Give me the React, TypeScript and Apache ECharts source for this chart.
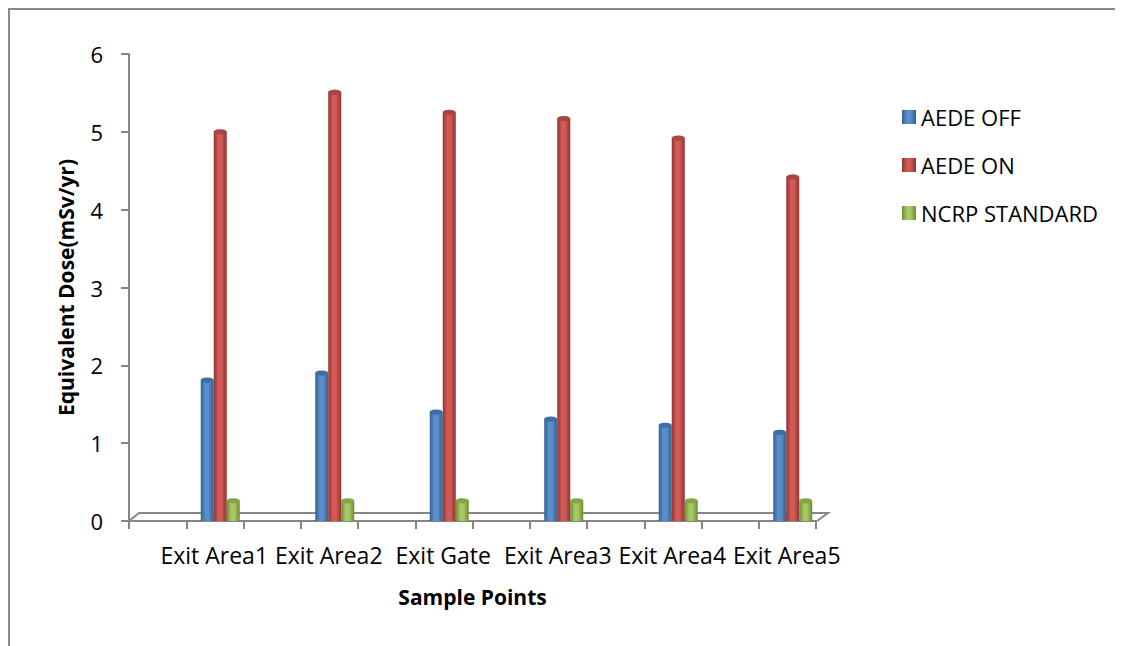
import React, { useEffect, useRef } from "react";
import * as echarts from "echarts";

const categories = ["Exit Area1", "Exit Area2", "Exit Gate", "Exit Area3", "Exit Area4", "Exit Area5"];
const seriesNames = ["AEDE OFF", "AEDE ON", "NCRP STANDARD"];
const aedeOff = [1.81, 1.9, 1.4, 1.31, 1.23, 1.14];
const aedeOn = [5.0, 5.51, 5.25, 5.17, 4.92, 4.42];
const ncrpStandard = [0.26, 0.26, 0.26, 0.26, 0.26, 0.26];
const yTicks = [0, 1, 2, 3, 4, 5, 6];

const FONT = "'Open Sans', sans-serif";
const AXIS = "#868686";

function cyl(edge: string, light: string) {
  return new echarts.graphic.LinearGradient(0, 0, 1, 0, [
    { offset: 0, color: edge },
    { offset: 0.35, color: light },
    { offset: 0.6, color: light },
    { offset: 1, color: edge },
  ]);
}

export default function App() {
  const ref = useRef<HTMLDivElement>(null);
  useEffect(() => {
    document.documentElement.style.overflow = "hidden";
    const chart = echarts.init(ref.current!, null, { renderer: "svg" });
    const colors = ["#4F81BD", "#C0504D", "#9BBB59"];
    const grads = [
      cyl("#34608F", "#5A8DCB"),
      cyl("#8E3431", "#D25A56"),
      cyl("#6E8A36", "#A6C963"),
    ];
    const caps = ["#3F6EA6", "#A94542", "#84A449"];
    const datas = [aedeOff, aedeOn, ncrpStandard];
    const bars: any[] = datas.map((d, i) => ({
      name: seriesNames[i],
      type: "bar",
      xAxisIndex: 1,
      yAxisIndex: 1,
      data: d,
      barWidth: 13,
      barGap: "0%",
      itemStyle: { color: grads[i] },
      z: 3,
    }));
    const tops: any[] = datas.map((d, i) => ({
      name: seriesNames[i],
      type: "pictorialBar",
      xAxisIndex: 1,
      yAxisIndex: 1,
      data: d,
      symbol: "circle",
      symbolSize: [13, 5],
      symbolPosition: "end",
      symbolOffset: [0, "-50%"],
      barWidth: 13,
      barGap: "0%",
      itemStyle: { color: caps[i] },
      z: 4,
    }));
    chart.setOption({
      animation: false,
      color: colors,
      textStyle: { fontFamily: FONT },
      legend: {
        orient: "vertical",
        left: 897,
        top: 100,
        itemWidth: 14,
        itemHeight: 14,
        itemGap: 24,
        icon: "rect",
        data: seriesNames,
        textStyle: { fontSize: 22, color: "#000", fontFamily: FONT, lineHeight: 24 },
      },
      grid: [
        { left: 129, top: 54, width: 687, height: 467 },
        { left: 163, top: 54, width: 687, height: 467 },
      ],
      xAxis: [
        {
          type: "value",
          gridIndex: 0,
          min: 0,
          max: 12,
          interval: 1,
          axisLine: { show: true, lineStyle: { color: AXIS, width: 2 } },
          axisTick: { show: true, length: 8, lineStyle: { color: AXIS, width: 2 } },
          axisLabel: { show: false },
          splitLine: { show: false },
          name: "Sample Points",
          nameLocation: "middle",
          nameGap: 65,
          nameTextStyle: { fontSize: 21, fontWeight: "bold", color: "#000", fontFamily: FONT },
        },
        {
          type: "category",
          gridIndex: 1,
          data: categories,
          axisLine: { show: false },
          axisTick: { show: false },
          axisLabel: {
            fontSize: 23,
            color: "#000",
            margin: 22,
            interval: 0,
            fontFamily: FONT,
            padding: [0, 12, 0, 0],
          },
        },
      ],
      yAxis: [
        {
          type: "value",
          gridIndex: 0,
          min: yTicks[0],
          max: yTicks[yTicks.length - 1],
          interval: 1,
          axisLine: { show: true, lineStyle: { color: AXIS, width: 2 } },
          axisTick: { show: true, length: 8, lineStyle: { color: AXIS, width: 2 } },
          axisLabel: { fontSize: 22, color: "#000", margin: 26, fontFamily: FONT },
          splitLine: { show: false },
          name: "Equivalent Dose(mSv/yr)",
          nameLocation: "middle",
          nameGap: 53,
          nameRotate: 90,
          nameTextStyle: { fontSize: 21, fontWeight: "bold", color: "#000", fontFamily: FONT },
        },
        {
          type: "value",
          gridIndex: 1,
          min: 0,
          max: 6,
          show: false,
        },
      ],
      graphic: [
        {
          type: "polyline",
          shape: { points: [[129, 521], [139, 513], [828, 513], [817, 521]] },
          style: { stroke: AXIS, lineWidth: 2, fill: null },
          z: 1,
        },
      ],
      series: [...bars, ...tops],
    });
    return () => chart.dispose();
  }, []);
  return (
    <div
      style={{
        position: "relative",
        width: 1200,
        height: 700,
        boxSizing: "border-box",
        borderTop: "2px solid #888",
        borderLeft: "2px solid #888",
      }}
    >
      <div ref={ref} style={{ position: "absolute", left: -10, top: -10, width: 1123, height: 646 }} />
    </div>
  );
}
